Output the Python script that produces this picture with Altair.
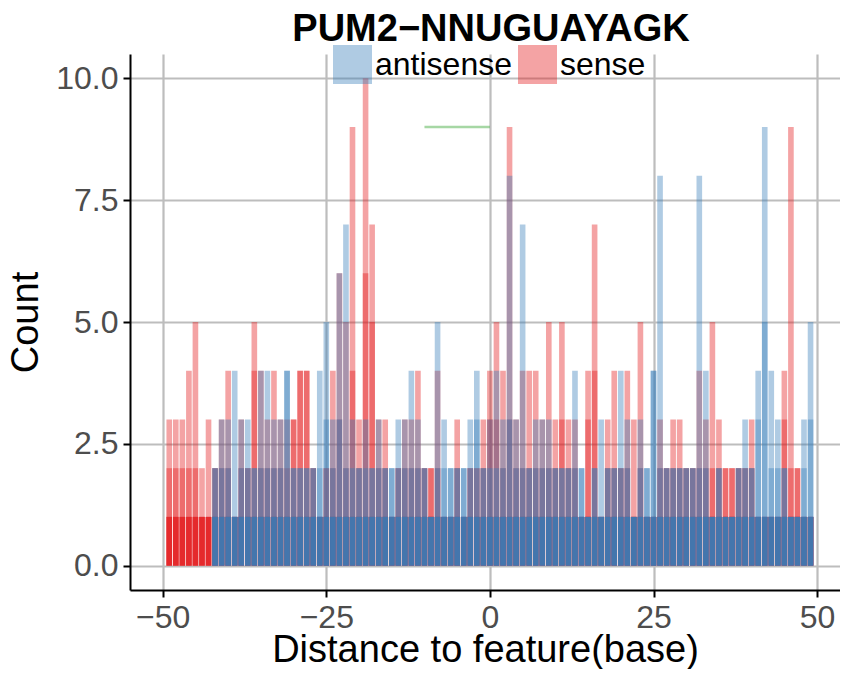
import altair as alt
import pandas as pd

# positions of the bars (distance to feature, bases)
positions = list(range(-49, 50))

# sense strand: tallest layer, second layer and base layer heights, read per position (-49 .. 49)
sense_top = [3, 3, 3, 4, 5, 2, 3, 2, 3, 4,
             1, 3, 2, 5, 4, 3, 4, 3, 3, 3,
             4, 4, 2, 1, 2, 4, 6, 5, 9, 3,
             10, 7, 3, 3, 1, 2, 3, 3, 4, 2,
             2, 4, 1, 1, 3, 1, 2, 2, 3, 4,
             5, 4, 9, 3, 4, 4, 4, 3, 5, 3,
             5, 3, 3, 1, 4, 7, 1, 3, 4, 2,
             4, 3, 5, 1, 1, 3, 2, 3, 3, 2,
             2, 4, 3, 5, 3, 2, 2, 2, 2, 3,
             1, 1, 1, 1, 4, 9, 2, 1, 1]
sense_second = [2, 2, 2, 2, 2, 1, 1, 2, 2, 2,
                1, 2, 2, 4, 2, 2, 2, 2, 2, 3,
                4, 4, 2, 1, 2, 2, 3, 2, 4, 2,
                6, 5, 2, 2, 1, 2, 2, 2, 2, 2,
                2, 2, 1, 1, 2, 1, 2, 2, 2, 3,
                3, 2, 3, 2, 2, 2, 2, 2, 2, 2,
                3, 2, 2, 1, 3, 4, 1, 2, 2, 2,
                2, 1, 2, 1, 1, 2, 2, 2, 2, 2,
                2, 2, 2, 2, 2, 2, 2, 2, 2, 2,
                1, 1, 1, 1, 3, 2, 2, 1, 1]
sense_base = [1] * 99

# antisense strand
anti_top = [0, 0, 0, 0, 0, 0, 0, 2, 3, 3,
            4, 3, 3, 2, 4, 4, 3, 3, 4, 2,
            2, 2, 2, 4, 5, 3, 6, 7, 3, 2,
            3, 2, 3, 2, 2, 3, 3, 4, 3, 2,
            1, 5, 3, 2, 2, 2, 3, 4, 2, 3,
            4, 3, 8, 3, 7, 2, 3, 3, 3, 2,
            2, 2, 4, 2, 1, 2, 3, 2, 2, 4,
            3, 1, 3, 2, 4, 8, 2, 2, 2, 2,
            2, 8, 4, 1, 2, 1, 1, 2, 3, 2,
            4, 9, 4, 3, 2, 1, 1, 3, 5]
anti_second = [0, 0, 0, 0, 0, 0, 0, 2, 2, 2,
               1, 2, 2, 2, 2, 2, 2, 2, 4, 2,
               2, 2, 2, 2, 3, 2, 3, 2, 2, 2,
               2, 2, 2, 2, 2, 2, 2, 2, 2, 2,
               1, 2, 2, 2, 2, 2, 2, 3, 2, 2,
               2, 2, 3, 2, 2, 2, 2, 2, 2, 2,
               2, 2, 2, 2, 1, 2, 1, 2, 2, 2,
               2, 1, 2, 2, 4, 2, 2, 2, 2, 2,
               2, 2, 2, 1, 2, 1, 1, 2, 2, 2,
               3, 5, 2, 2, 2, 1, 1, 2, 3]
anti_base = [0, 0, 0, 0, 0, 0, 0] + [1] * 92

# motif segment
motif_start = [-10]
motif_end = [0]
motif_y = [9]

title_text = "PUM2\u2212NNUGUAYAGK"

rows = []
for strand, layers in [("sense", [sense_top, sense_second, sense_base, sense_base, sense_base]),
                       ("antisense", [anti_top, anti_second, anti_base, anti_base, anti_base])]:
    for li, arr in enumerate(layers):
        for p, h in zip(positions, arr):
            if h > 0:
                rows.append({"pos": p, "strand": strand, "h": h, "layer": li})
df = pd.DataFrame(rows)

seg = pd.DataFrame({"x": motif_start, "x2": motif_end, "y": motif_y})

FONT = "Liberation Sans"
XT = "Distance to feature(base)"
YT = "Count"

bars = alt.Chart(df).transform_calculate(
    xa="datum.pos - 0.43", xb="datum.pos + 0.43"
).mark_bar(opacity=0.4, strokeWidth=0).encode(
    x=alt.X("xa:Q", title=XT,
            scale=alt.Scale(domain=[-55, 53.5], nice=False, zero=False, padding=0),
            axis=alt.Axis(values=[-50, -25, 0, 25, 50], format="d",
                          titleBaseline="alphabetic", titleY=71)),
    x2="xb:Q",
    y=alt.Y("h:Q", stack=None, title=YT,
            scale=alt.Scale(domain=[-0.5, 10.5], nice=False, zero=False, padding=0),
            axis=alt.Axis(values=[0, 2.5, 5, 7.5, 10], format=".1f", titlePadding=10)),
    y2=alt.datum(0),
    color=alt.Color("strand:N",
                    scale=alt.Scale(domain=["antisense", "sense"], range=["#377EB8", "#E41A1C"]),
                    legend=alt.Legend(orient="none", legendX=203, legendY=-9, direction="horizontal",
                                      title=None, symbolType="square", symbolSize=1521,
                                      symbolOpacity=0.4, symbolStrokeWidth=0,
                                      labelFontSize=32, labelFont=FONT, labelColor="black",
                                      labelOffset=3, columnPadding=6, padding=0)),
)

rule = alt.Chart(seg).mark_rule(color="#4DAF4A", opacity=0.5, strokeWidth=2.5).encode(
    x=alt.X("x:Q", title=XT),
    x2="x2:Q",
    y=alt.Y("y:Q", title=YT),
)

chart = alt.layer(bars, rule).properties(
    width=710, height=536,
    padding={"left": 122, "top": 46, "right": 0, "bottom": 79},
    autosize=alt.AutoSizeParams(type="none"),
    title=alt.TitleParams(title_text, fontSize=38, font=FONT, fontWeight="bold",
                          anchor="middle", color="black", offset=0, dy=4, dx=6),
    background="white",
).configure_view(stroke=None).configure_axis(
    grid=True, gridColor="#bdbdbd", gridWidth=2.2,
    domainColor="black", domainWidth=2,
    tickColor="black", tickWidth=2, tickSize=7,
    labelFont=FONT, labelFontSize=32, labelColor="#4d4d4d", labelPadding=5,
    titleFont=FONT, titleFontSize=38, titleColor="black", titleFontWeight="normal",
)

chart.save("out.html", embed_options={"renderer": "svg", "actions": False})
